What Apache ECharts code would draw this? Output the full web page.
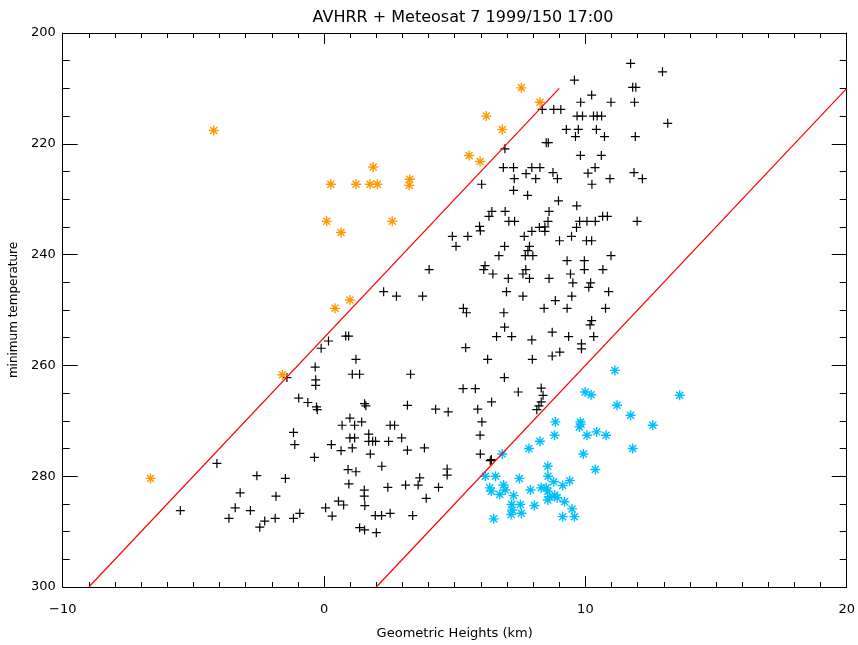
<!DOCTYPE html>
<html>
<head>
<meta charset="utf-8">
<script src="https://cdn.jsdelivr.net/npm/echarts@6/dist/echarts.min.js"></script>
<style>
  html, body { margin: 0; padding: 0; background: #fff; }
  #chart { width: 858px; height: 645px; }
</style>
</head>
<body>
<div id="chart"></div>
<script>
// axis ranges / ticks
const xTicks = [-10, 0, 10, 20];
const yTicks = [200, 220, 240, 260, 280, 300];

// red boundary lines [height km, temperature]
const lineLeft = [[-9, 300], [9, 210]];
const lineRight = [[2, 300], [20, 210]];

// black +  (height km, minimum temperature)
const cloudPts = [
  [-1.42,262.2],[0.83,254.7],[0.94,254.7],[0.17,255.6],[-0.11,256.9],[1.22,258.9],[-0.34,260.3],
  [1.08,261.6],[1.36,261.6],[-0.32,262.6],[-0.32,263.6],[-0.97,265.9],[-0.62,266.7],[-0.29,267.5],
  [-0.26,268.0],[0.99,269.5],[0.69,270.8],[1.17,270.8],[-1.17,272.1],[0.99,273.1],[1.17,273.1],
  [-1.12,274.3],[0.28,274.3],[0.65,275.4],[1.08,274.9],[-0.37,276.6],[-4.10,277.7],[0.92,278.8],
  [1.22,279.2],[-2.57,279.9],[-1.48,280.4],[0.95,281.4],[-3.21,283.0],[-1.84,283.6],[0.55,284.5],
  [0.75,285.2],[-5.50,286.2],[-3.40,285.7],[-2.82,286.2],[0.06,285.7],[0.31,287.2],[-3.64,287.6],
  [-2.27,288.1],[-2.46,289.2],[-1.87,287.6],[-1.17,287.6],[-0.93,286.7],[1.36,289.3],
  [11.73,205.5],[12.95,207.0],[9.58,208.5],[11.81,209.8],[11.93,209.8],[10.24,211.2],[9.82,212.5],
  [10.98,212.5],[11.88,212.5],[8.35,213.8],[8.79,213.8],[9.06,213.8],[9.68,215.0],[9.89,215.0],
  [10.31,215.0],[10.45,215.0],[10.62,215.0],[13.15,216.3],[9.27,217.4],[9.73,217.4],[10.42,217.4],
  [9.62,218.7],[10.73,218.7],[11.91,218.7],[8.50,219.8],[8.58,219.8],[6.92,220.9],[9.81,222.1],
  [10.61,222.1],[6.86,224.3],[7.25,224.3],[7.95,224.3],[8.26,224.3],[10.37,224.3],[7.28,226.3],
  [7.73,225.4],[8.10,226.3],[8.76,225.2],[8.93,226.3],[10.10,225.3],[10.25,227.3],[10.94,226.3],
  [11.86,225.2],[12.18,226.3],[6.03,227.3],[7.25,228.4],[7.79,229.3],[8.97,230.3],[9.67,231.2],
  [6.42,232.2],[6.31,233.1],[6.93,232.2],[8.61,232.2],[7.07,234.0],[7.29,234.0],[8.57,234.0],
  [9.78,234.0],[10.06,234.0],[10.38,234.0],[10.66,233.1],[10.84,233.1],[11.98,234.0],[5.95,234.9],
  [5.98,235.7],[7.95,235.8],[8.24,235.1],[8.45,235.0],[8.45,235.8],[9.66,235.1],[4.91,236.7],
  [5.50,236.7],[5.05,238.5],[7.66,236.7],[9.01,237.5],[9.47,236.7],[10.04,237.5],[10.24,237.5],
  [6.91,238.5],[7.86,238.5],[7.80,239.3],[6.69,240.2],[7.70,240.2],[7.99,240.2],[10.98,240.2],
  [9.30,241.1],[9.96,241.1],[4.02,242.7],[6.16,242.0],[6.11,242.7],[6.46,243.5],[7.05,244.3],
  [7.72,242.7],[7.61,243.5],[7.86,244.3],[8.61,244.3],[9.43,243.5],[9.96,242.7],[10.67,242.7],
  [9.52,245.1],[10.20,245.1],[10.13,245.9],[10.89,246.7],[2.28,246.7],[2.77,247.5],[3.77,247.5],
  [6.98,246.7],[7.61,247.5],[9.48,247.5],[8.85,248.3],[5.33,249.7],[5.45,250.5],[6.88,250.5],
  [8.42,249.7],[9.30,249.7],[10.77,249.7],[10.24,251.9],[10.18,252.7],[6.91,253.1],
  [6.60,254.8],[7.18,254.8],[7.95,255.4],[8.73,254.0],[9.36,254.8],[10.32,254.8],[9.85,256.1],
  [9.85,257.0],[5.42,256.8],[6.26,258.9],[7.97,258.9],[8.73,258.3],[9.02,257.6],[3.31,261.6],
  [6.90,262.2],[5.32,264.2],[5.79,264.2],[7.43,264.8],[8.31,264.1],[8.38,265.4],[8.31,266.6],
  [8.22,267.3],[8.14,268.0],[1.55,266.9],[1.60,267.3],[3.19,267.2],[4.27,267.9],[4.75,268.4],
  [5.88,267.9],[6.41,266.6],[1.44,270.2],[2.53,270.8],[2.70,270.8],[6.04,270.2],[5.97,272.6],
  [1.71,272.4],[1.71,273.7],[1.86,273.7],[1.97,273.7],[2.47,273.7],[2.97,273.1],[3.19,275.3],
  [3.84,274.9],[1.77,276.0],[5.98,276.0],[6.36,277.2],[6.40,277.0],[2.21,278.2],[4.71,278.7],
  [4.71,279.8],[3.66,280.3],[3.60,281.6],[3.12,281.6],[2.44,282.0],[4.38,282.0],[1.54,282.5],
  [1.54,283.6],[3.91,284.0],[1.56,285.3],[1.96,287.1],[2.20,287.1],[2.53,286.7],[3.39,287.1],
  [1.55,289.7],[2.00,290.2]
];

// orange *  (above left line)
const coldPts = [
  [-4.22,217.6],[0.26,227.3],[1.22,227.3],[1.76,227.3],[2.04,227.3],[3.26,227.5],[3.28,226.4],
  [1.88,224.2],[0.10,234.0],[0.65,236.0],[2.61,234.0],[0.99,248.2],[0.42,249.7],[-1.59,261.7],
  [-6.64,280.4],[7.55,209.9],[8.26,212.5],[6.21,215.0],[6.82,217.4],[5.55,222.1],[5.97,223.2]
];

// cyan *  (below right line)
const warmPts = [
  [11.13,260.9],[9.99,264.8],[10.22,265.3],[13.61,265.4],[11.21,267.2],[11.73,269.0],[12.58,270.8],
  [8.85,270.2],[9.81,270.2],[9.77,271.1],[9.83,270.6],[8.82,272.6],[10.06,272.6],[10.43,272.0],
  [10.79,272.6],[8.26,273.7],[7.84,275.0],[11.81,275.0],[6.82,276.0],[9.92,276.0],[10.38,278.8],
  [8.56,278.2],[8.57,280.0],[6.17,280.0],[6.56,280.0],[7.47,280.4],[9.40,280.8],[9.13,281.7],
  [8.79,281.0],[6.87,281.6],[6.34,282.1],[6.40,282.7],[6.93,282.5],[7.90,282.5],[8.31,282.1],
  [8.50,282.1],[6.72,283.3],[7.25,283.5],[8.56,282.7],[8.63,283.7],[8.82,283.4],[8.92,283.9],
  [8.56,284.3],[9.20,284.6],[7.18,285.1],[7.51,285.1],[8.05,285.3],[7.20,286.1],[7.16,286.9],
  [7.55,286.7],[9.49,285.9],[9.58,287.3],[9.13,287.3],[6.49,287.7]
];

const plusPath = 'path://M0,5L10,5M5,0L5,10';
const starPath = 'path://M0,5L10,5M5,0L5,10M1.5,1.5L8.5,8.5M1.5,8.5L8.5,1.5';
const fontFam = 'DejaVu Sans';

const chart = echarts.init(document.getElementById('chart'), null, { renderer: 'canvas' });

const xBase = {
  type: 'value',
  min: xTicks[0],
  max: xTicks[xTicks.length - 1],
  interval: 10,
  axisLine: { show: true, onZero: false, lineStyle: { color: '#000', width: 1 } },
  axisTick: { show: true, inside: true, length: 11, lineStyle: { color: '#000' } },
  minorTick: { show: true, splitNumber: 10, length: 5, lineStyle: { color: '#000' } },
  splitLine: { show: false }
};
const yBase = {
  type: 'value',
  inverse: true,
  min: yTicks[0],
  max: yTicks[yTicks.length - 1],
  interval: 20,
  axisLine: { show: true, onZero: false, lineStyle: { color: '#000', width: 1 } },
  axisTick: { show: true, inside: true, length: 15, lineStyle: { color: '#000' } },
  minorTick: { show: true, splitNumber: 4, length: 7, lineStyle: { color: '#000' } },
  splitLine: { show: false }
};

const option = {
  animation: false,
  backgroundColor: '#fff',
  title: {
    text: 'AVHRR + Meteosat 7 1999/150 17:00',
    left: 458,
    top: 5,
    textAlign: 'center',
    textStyle: { fontFamily: fontFam, fontSize: 16, fontWeight: 'normal', color: '#000' }
  },
  grid: { left: 62, right: 10, top: 33, bottom: 56 },
  xAxis: [
    Object.assign({}, xBase, {
      position: 'bottom',
      name: 'Geometric Heights (km)',
      nameLocation: 'middle',
      nameGap: 40,
      nameTextStyle: { fontFamily: fontFam, fontSize: 13, color: '#000' },
      axisLabel: {
        margin: 16,
        fontFamily: fontFam, fontSize: 13, color: '#000',
        formatter: (v) => (v < 0 ? '\u2212' + Math.abs(v) : String(v))
      }
    }),
    Object.assign({}, xBase, { position: 'top', axisLabel: { show: false } })
  ],
  yAxis: [
    Object.assign({}, yBase, {
      position: 'left',
      name: 'minimum temperature',
      nameLocation: 'middle',
      nameGap: 42,
      nameRotate: 90,
      nameTextStyle: { fontFamily: fontFam, fontSize: 12, color: '#000' },
      axisLabel: { margin: 7, fontFamily: fontFam, fontSize: 13, color: '#000' }
    }),
    Object.assign({}, yBase, { position: 'right', axisLabel: { show: false } })
  ],
  series: [
    {
      type: 'line', data: lineLeft, symbol: 'none', silent: true,
      lineStyle: { color: '#ff0000', width: 1.2 }
    },
    {
      type: 'line', data: lineRight, symbol: 'none', silent: true,
      lineStyle: { color: '#ff0000', width: 1.2 }
    },
    {
      type: 'scatter', data: cloudPts, symbol: plusPath, symbolSize: 9,
      itemStyle: { color: 'none', borderColor: '#000', borderWidth: 1.2, opacity: 1 }
    },
    {
      type: 'scatter', data: coldPts, symbol: starPath, symbolSize: 10,
      itemStyle: { color: 'none', borderColor: '#ff9900', borderWidth: 1.4, opacity: 1 }
    },
    {
      type: 'scatter', data: warmPts, symbol: starPath, symbolSize: 10,
      itemStyle: { color: 'none', borderColor: '#00bfff', borderWidth: 1.4, opacity: 1 }
    }
  ]
};

chart.setOption(option);
</script>
</body>
</html>
